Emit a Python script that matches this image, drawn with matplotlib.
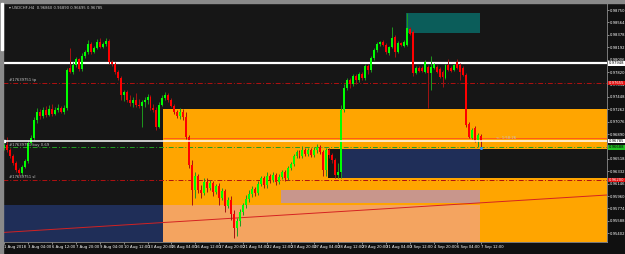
#!/usr/bin/env python3
"""USDCHF H4 chart with order levels and supply/demand zones, MT4 style."""

import matplotlib

matplotlib.use("Agg")
import matplotlib.pyplot as plt
import numpy as np
from matplotlib.patches import Rectangle

HEADER = "USDCHF,H4  0.96860 0.96890 0.96695 0.96785"

opens = [
    0.96680, 0.96725, 0.96650, 0.96560, 0.96455, 0.96350, 0.96305, 0.96395, 0.96485, 0.96755,
    0.96830, 0.97100, 0.97220, 0.97160, 0.97250, 0.97175, 0.97265, 0.97190, 0.97250, 0.97280,
    0.97220, 0.97280, 0.97880, 0.97820, 0.97925, 0.98015, 0.97865, 0.98060, 0.98120, 0.98240,
    0.98120, 0.98180, 0.98270, 0.98195, 0.98240, 0.98285, 0.97970, 0.97940, 0.97820, 0.97730,
    0.97475, 0.97520, 0.97400, 0.97355, 0.97400, 0.97325, 0.97310, 0.97370, 0.97400, 0.97445,
    0.97280, 0.97250, 0.96995, 0.97325, 0.97430, 0.97475, 0.97400, 0.97310, 0.97220, 0.97160,
    0.97220, 0.97145, 0.96845, 0.96425, 0.96050, 0.96260, 0.96050, 0.96005, 0.96170, 0.96080,
    0.96155, 0.96020, 0.96110, 0.95930, 0.96035, 0.95810, 0.95900, 0.95690, 0.95480, 0.95585,
    0.95720, 0.95825, 0.95915, 0.95990, 0.96065, 0.96005, 0.96140, 0.96230, 0.96125, 0.96260,
    0.96200, 0.96275, 0.96170, 0.96245, 0.96320, 0.96230, 0.96380, 0.96440, 0.96560, 0.96620,
    0.96560, 0.96650, 0.96590, 0.96650, 0.96575, 0.96650, 0.96695, 0.96620, 0.96350, 0.96650,
    0.96575, 0.96500, 0.96275, 0.96320, 0.97250, 0.97580, 0.97700, 0.97640, 0.97760, 0.97700,
    0.97790, 0.97730, 0.97910, 0.97850, 0.98030, 0.98150, 0.98240, 0.98270, 0.98225, 0.98105,
    0.98195, 0.98345, 0.98120, 0.98255, 0.98210, 0.98225, 0.98465, 0.98420, 0.97805, 0.97880,
    0.97880, 0.97820, 0.97895, 0.97805, 0.97880, 0.97895, 0.97865, 0.97820, 0.97730, 0.97925,
    0.97880, 0.97850, 0.97970, 0.97925, 0.97880, 0.97775, 0.97040, 0.96830, 0.96980, 0.96800,
    0.96860,
]
highs = [
    0.96755, 0.96845, 0.96680, 0.96590, 0.96485, 0.96380, 0.96425, 0.96515, 0.96800, 0.96875,
    0.97145, 0.97280, 0.97265, 0.97295, 0.97310, 0.97325, 0.97340, 0.97295, 0.97340, 0.97310,
    0.97325, 0.97880, 0.98180, 0.97970, 0.98045, 0.98030, 0.98105, 0.98150, 0.98300, 0.98270,
    0.98210, 0.98315, 0.98330, 0.98270, 0.98330, 0.98315, 0.98000, 0.97970, 0.97850, 0.97760,
    0.97550, 0.97550, 0.97475, 0.97445, 0.97505, 0.97415, 0.97400, 0.97445, 0.97490, 0.97475,
    0.97340, 0.97295, 0.97370, 0.97475, 0.97520, 0.97505, 0.97430, 0.97340, 0.97250, 0.97280,
    0.97265, 0.97220, 0.96875, 0.96500, 0.96320, 0.96290, 0.96125, 0.96230, 0.96230, 0.96200,
    0.96185, 0.96140, 0.96155, 0.96080, 0.96065, 0.95945, 0.95960, 0.95750, 0.95630, 0.95765,
    0.95855, 0.95975, 0.96050, 0.96110, 0.96095, 0.96185, 0.96260, 0.96260, 0.96320, 0.96290,
    0.96320, 0.96305, 0.96290, 0.96350, 0.96350, 0.96410, 0.96470, 0.96590, 0.96650, 0.96650,
    0.96710, 0.96680, 0.96680, 0.96680, 0.96695, 0.96740, 0.96725, 0.96650, 0.96680, 0.96680,
    0.96605, 0.96530, 0.96455, 0.97325, 0.97640, 0.97730, 0.97730, 0.97790, 0.97790, 0.97820,
    0.97820, 0.97940, 0.97940, 0.98060, 0.98180, 0.98270, 0.98285, 0.98300, 0.98255, 0.98210,
    0.98495, 0.98375, 0.98285, 0.98270, 0.98300, 0.98705, 0.98495, 0.98450, 0.97910, 0.97910,
    0.97910, 0.98000, 0.97925, 0.98060, 0.97955, 0.97925, 0.97895, 0.97850, 0.97940, 0.98015,
    0.97910, 0.97940, 0.98015, 0.97955, 0.97910, 0.97805, 0.97070, 0.96980, 0.97010, 0.96905,
    0.96890,
]
lows = [
    0.96650, 0.96620, 0.96530, 0.96425, 0.96320, 0.96260, 0.96275, 0.96380, 0.96455, 0.96725,
    0.96800, 0.97055, 0.97115, 0.97130, 0.97145, 0.97160, 0.97160, 0.97175, 0.97220, 0.97205,
    0.97190, 0.97250, 0.97805, 0.97790, 0.97895, 0.97835, 0.97835, 0.98030, 0.98090, 0.98090,
    0.98105, 0.98165, 0.98180, 0.98180, 0.98210, 0.97940, 0.97910, 0.97790, 0.97700, 0.97400,
    0.97385, 0.97370, 0.97310, 0.97295, 0.97295, 0.97280, 0.96995, 0.97295, 0.97340, 0.97250,
    0.97220, 0.96950, 0.96980, 0.97310, 0.97400, 0.97370, 0.97295, 0.97190, 0.97130, 0.97115,
    0.97100, 0.96815, 0.96380, 0.95825, 0.95930, 0.96005, 0.95930, 0.95975, 0.96020, 0.96050,
    0.95960, 0.95990, 0.95825, 0.95900, 0.95720, 0.95780, 0.95600, 0.95330, 0.95360, 0.95510,
    0.95675, 0.95780, 0.95870, 0.95945, 0.95960, 0.95975, 0.96110, 0.96080, 0.96080, 0.96155,
    0.96170, 0.96125, 0.96140, 0.96215, 0.96185, 0.96200, 0.96350, 0.96410, 0.96530, 0.96530,
    0.96530, 0.96560, 0.96560, 0.96545, 0.96545, 0.96605, 0.96590, 0.96260, 0.96260, 0.96530,
    0.96455, 0.96230, 0.96230, 0.96230, 0.97220, 0.97550, 0.97580, 0.97610, 0.97640, 0.97670,
    0.97700, 0.97700, 0.97790, 0.97820, 0.98000, 0.98120, 0.98210, 0.98210, 0.98090, 0.98075,
    0.98180, 0.98045, 0.98105, 0.98210, 0.98195, 0.98210, 0.98375, 0.97760, 0.97790, 0.97820,
    0.97820, 0.97805, 0.97280, 0.97550, 0.97865, 0.97805, 0.97730, 0.97595, 0.97715, 0.97835,
    0.97820, 0.97835, 0.97865, 0.97700, 0.97760, 0.96995, 0.96830, 0.96815, 0.96770, 0.96695,
    0.96695,
]
closes = [
    0.96725, 0.96650, 0.96560, 0.96455, 0.96350, 0.96305, 0.96395, 0.96485, 0.96755, 0.96830,
    0.97100, 0.97220, 0.97160, 0.97250, 0.97175, 0.97265, 0.97190, 0.97250, 0.97280, 0.97220,
    0.97280, 0.97850, 0.97820, 0.97925, 0.98015, 0.97865, 0.98060, 0.98120, 0.98240, 0.98120,
    0.98180, 0.98270, 0.98195, 0.98240, 0.98285, 0.97970, 0.97940, 0.97820, 0.97730, 0.97475,
    0.97520, 0.97400, 0.97355, 0.97400, 0.97325, 0.97310, 0.97370, 0.97400, 0.97445, 0.97280,
    0.97250, 0.96995, 0.97325, 0.97430, 0.97475, 0.97400, 0.97310, 0.97220, 0.97160, 0.97220,
    0.97145, 0.96845, 0.96425, 0.96050, 0.96260, 0.96050, 0.96005, 0.96170, 0.96080, 0.96155,
    0.96020, 0.96110, 0.95930, 0.96035, 0.95810, 0.95900, 0.95690, 0.95480, 0.95585, 0.95720,
    0.95825, 0.95915, 0.95990, 0.96065, 0.96005, 0.96140, 0.96230, 0.96125, 0.96260, 0.96200,
    0.96275, 0.96170, 0.96245, 0.96320, 0.96230, 0.96380, 0.96440, 0.96560, 0.96620, 0.96560,
    0.96650, 0.96590, 0.96650, 0.96575, 0.96650, 0.96695, 0.96620, 0.96350, 0.96650, 0.96575,
    0.96500, 0.96275, 0.96320, 0.97250, 0.97580, 0.97700, 0.97640, 0.97760, 0.97700, 0.97790,
    0.97730, 0.97910, 0.97850, 0.98030, 0.98150, 0.98240, 0.98270, 0.98225, 0.98120, 0.98195,
    0.98330, 0.98120, 0.98255, 0.98225, 0.98270, 0.98480, 0.98390, 0.97805, 0.97880, 0.97835,
    0.97835, 0.97970, 0.97805, 0.97895, 0.97940, 0.97820, 0.97745, 0.97745, 0.97925, 0.97850,
    0.97835, 0.97925, 0.97880, 0.97820, 0.97775, 0.97025, 0.96845, 0.96950, 0.96785, 0.96875,
    0.96785,
]

date_labels = [
    "1 Aug 2018", "3 Aug 04:00", "6 Aug 12:00", "7 Aug 20:00", "9 Aug 04:00",
    "10 Aug 12:00", "13 Aug 20:00", "15 Aug 04:00", "16 Aug 12:00", "17 Aug 20:00",
    "21 Aug 04:00", "22 Aug 12:00", "23 Aug 20:00", "27 Aug 04:00", "28 Aug 12:00",
    "29 Aug 20:00", "31 Aug 04:00", "3 Sep 12:00", "4 Sep 20:00", "6 Sep 04:00",
    "7 Sep 12:00",
]
bars_per_label = 8

order_id = "#17639751"
white_level = 0.97948
tp_level = 0.97655
entry_level = 0.96688
sl_level = 0.96200
zone_edge_level = 0.96830

# zones: (first bar, last bar, low price, high price, colour)
zones = [
    (53.2, 210, 0.96665, 0.97265, "#ffa500"),
    (53.2, 108.6, 0.96230, 0.96665, "#ffa500"),
    (53.2, 210, 0.9500, 0.96230, "#ffa500"),
    (112.9, 159.6, 0.96230, 0.96665, "#1f2e58"),
    (-5, 53.2, 0.9500, 0.95825, "#1f2e58"),
    (53.2, 159.6, 0.9500, 0.95825, "#f4a460"),
    (92.8, 159.6, 0.95855, 0.96050, "#c8968c"),
    (134.7, 159.6, 0.98405, 0.98705, "#0b5d5a"),
]
trend_bars = [-0.5, 202.2]
trend_prices = [0.95413, 0.95975]

TINY = 2.7


def draw_candles(ax) -> None:
    o = np.array(opens)
    h = np.array(highs)
    l = np.array(lows)
    c = np.array(closes)
    x = np.arange(len(o))
    up = c >= o
    ax.vlines(x[up], l[up], h[up], color="#1e9a1e", lw=0.7, zorder=4)
    ax.vlines(x[~up], l[~up], h[~up], color="#a31212", lw=0.7, zorder=4)
    body = np.maximum(np.abs(c - o), 0.00004)
    bottom = np.minimum(o, c)
    ax.bar(x[up], body[up], bottom=bottom[up], width=0.66, color="#00ff00", lw=0, zorder=5)
    ax.bar(x[~up], body[~up], bottom=bottom[~up], width=0.66, color="#ff0000", lw=0, zorder=5)


def price_box(ax, level, face, text_color) -> None:
    ax.text(1.003, level, f"{level:.5f}", transform=ax.get_yaxis_transform(),
            fontsize=TINY, color=text_color, va="center", ha="left", clip_on=False,
            bbox=dict(boxstyle="square,pad=0.12", fc=face, ec="none"), zorder=10)


def main() -> None:
    fig = plt.figure(figsize=(6.25, 2.54), dpi=100, facecolor="#101010")
    ax = fig.add_axes([3 / 625, 12 / 254, 604 / 625, 239 / 254])
    ax.set_facecolor("#161616")

    for x0, x1, y0, y1, color in zones:
        ax.add_patch(Rectangle((x0, y0), x1 - x0, y1 - y0, color=color, lw=0, zorder=1))

    ax.plot(trend_bars, trend_prices, color="#d42222", lw=0.7, zorder=2)
    ax.hlines(zone_edge_level, 53.2, 210, color="#ff5a1a", lw=0.7, zorder=2)

    ax.axhline(white_level, color="white", lw=1.6, zorder=3)
    ax.axhline(tp_level, color="#b01010", lw=0.7, dashes=(5, 2, 1, 2), zorder=3)
    ax.axhline(entry_level, color="#22a022", lw=0.7, dashes=(5, 2, 1, 2), zorder=3)
    ax.axhline(sl_level, color="#b01010", lw=0.7, dashes=(5, 2, 1, 2), zorder=3)

    draw_candles(ax)
    ax.axhline(closes[-1], color="white", lw=1.1, zorder=6)
    ax.plot(-0.2, closes[-1], "s", ms=1.6, color="white", zorder=7, clip_on=False)
    ax.plot(len(closes) - 1, entry_level - 0.00005, "s", ms=1.0, color="#3399ff", zorder=7)

    label_kw = dict(fontsize=TINY, color="#c8c8c8", zorder=8)
    ax.text(1.5, tp_level + 0.0001, f"{order_id} tp", va="bottom", **label_kw)
    ax.text(1.5, entry_level + 0.0001, f"{order_id} buy 0.69", va="bottom", **label_kw)
    ax.text(1.5, sl_level + 0.0001, f"{order_id} sl", va="bottom", **label_kw)
    ax.text(165, zone_edge_level, "<- 1:58:26", va="center", **label_kw)

    ax.set_xlim(-0.5, 202.2)
    ax.set_ylim(0.95270, 0.98855)

    ax.yaxis.tick_right()
    ax.set_yticks(0.98750 - 0.00186 * np.arange(19))
    ax.yaxis.set_major_formatter(matplotlib.ticker.FormatStrFormatter("%.5f"))
    ticks = np.arange(len(date_labels)) * bars_per_label
    ax.set_xticks(ticks, date_labels)
    for label in ax.get_xticklabels():
        label.set_horizontalalignment("left")
    ax.tick_params(colors="#bbbbbb", labelcolor="white", labelsize=TINY, length=1.2,
                   width=0.5, pad=0.8)
    for spine in ax.spines.values():
        spine.set_color("#8c8c8c")
        spine.set_linewidth(0.6)

    price_box(ax, white_level, "white", "black")
    price_box(ax, tp_level, "#e01010", "white")
    price_box(ax, closes[-1], "white", "black")
    price_box(ax, entry_level, "#22c022", "black")
    price_box(ax, sl_level, "#e01010", "white")

    # window frame bits
    fig.patches.append(Rectangle((0, 1 - 3 / 254), 1, 3 / 254, color="#8a8a8a",
                                 transform=fig.transFigure, figure=fig))
    fig.patches.append(Rectangle((0, 0), 3 / 625, 1, color="#8a8a8a",
                                 transform=fig.transFigure, figure=fig))
    fig.patches.append(Rectangle((1 / 625, 1 - 50 / 254), 2 / 625, 47 / 254, color="white",
                                 transform=fig.transFigure, figure=fig))
    fig.text(9 / 625, 1 - 8 / 254, "\u25be " + HEADER, fontsize=TINY, color="#d0d0d0",
             va="center", ha="left")

    fig.savefig("out.png", dpi=100, facecolor=fig.get_facecolor())
    plt.close(fig)


if __name__ == "__main__":
    main()
